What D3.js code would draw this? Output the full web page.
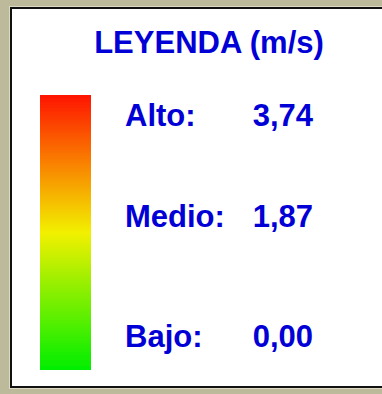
<!DOCTYPE html>
<html>
<head>
<meta charset="utf-8">
<script src="https://cdn.jsdelivr.net/npm/d3@7/dist/d3.min.js"></script>
<style>
  html, body { margin: 0; padding: 0; background: #bdb99b; }
  svg { display: block; }
</style>
</head>
<body>
<script>
// Legend content
const title = "LEYENDA (m/s)";
const levelNames = ["Alto:", "Medio:", "Bajo:"];
const levelValues = [3.74, 1.87, 0.00];
const rampColors = ["#00ee00", "#f2f000", "#ff1400"]; // bottom → middle → top

const W = 382, H = 394;
const svg = d3.select("body").append("svg")
  .attr("width", W).attr("height", H);

// textured-looking backdrop
svg.append("rect").attr("width", W).attr("height", H).attr("fill", "#bdb99b");

// framed white panel
svg.append("rect")
  .attr("x", 9.5).attr("y", 6.5).attr("width", W).attr("height", 382)
  .attr("fill", "none").attr("stroke", "#dcd9c4").attr("stroke-width", 1);
svg.append("rect")
  .attr("x", 11).attr("y", 8).attr("width", W).attr("height", 379)
  .attr("fill", "#ffffff").attr("stroke", "#111111").attr("stroke-width", 2);

const vmax = d3.max(levelValues), vmin = d3.min(levelValues);
const vmid = (vmax + vmin) / 2;

// value → vertical position on the colour ramp
const y = d3.scaleLinear().domain([vmin, vmax]).range([370, 95]);
const color = d3.scaleLinear()
  .domain([vmin, vmid, vmax])
  .range(rampColors)
  .interpolate(d3.interpolateRgb);

const defs = svg.append("defs");
const grad = defs.append("linearGradient")
  .attr("id", "ramp").attr("x1", 0).attr("y1", 1).attr("x2", 0).attr("y2", 0);
d3.range(0, 1.0001, 0.05).forEach(t => {
  grad.append("stop")
    .attr("offset", t)
    .attr("stop-color", color(vmin + t * (vmax - vmin)));
});
defs.append("filter").attr("id", "soft")
  .append("feGaussianBlur").attr("stdDeviation", 0.6);

svg.append("rect")
  .attr("x", 40).attr("width", 51)
  .attr("y", y(vmax)).attr("height", y(vmin) - y(vmax))
  .attr("fill", "url(#ramp)")
  .attr("filter", "url(#soft)");

const font = "'Liberation Sans', Arial, Helvetica, sans-serif";
const blue = "#0000d6";

svg.append("text")
  .attr("x", 209).attr("y", 53)
  .attr("text-anchor", "middle")
  .attr("font-family", font).attr("font-weight", "bold")
  .attr("font-size", 31).attr("fill", blue)
  .text(title);

// baselines of the three label rows
const rowY = d3.scaleLinear().domain([vmin, vmid, vmax]).range([347, 227, 126]);
const fmt = v => d3.format(".2f")(v).replace(".", ",");

const rows = svg.append("g").selectAll("g")
  .data(levelNames.map((n, i) => ({ name: n, value: levelValues[i] })))
  .join("g");

rows.append("text")
  .attr("x", 125).attr("y", d => rowY(d.value))
  .attr("font-family", font).attr("font-weight", "bold")
  .attr("font-size", 31).attr("fill", blue)
  .text(d => d.name);

rows.append("text")
  .attr("x", 313).attr("y", d => rowY(d.value))
  .attr("text-anchor", "end")
  .attr("font-family", font).attr("font-weight", "bold")
  .attr("font-size", 31).attr("fill", blue)
  .text(d => fmt(d.value));
</script>
</body>
</html>
